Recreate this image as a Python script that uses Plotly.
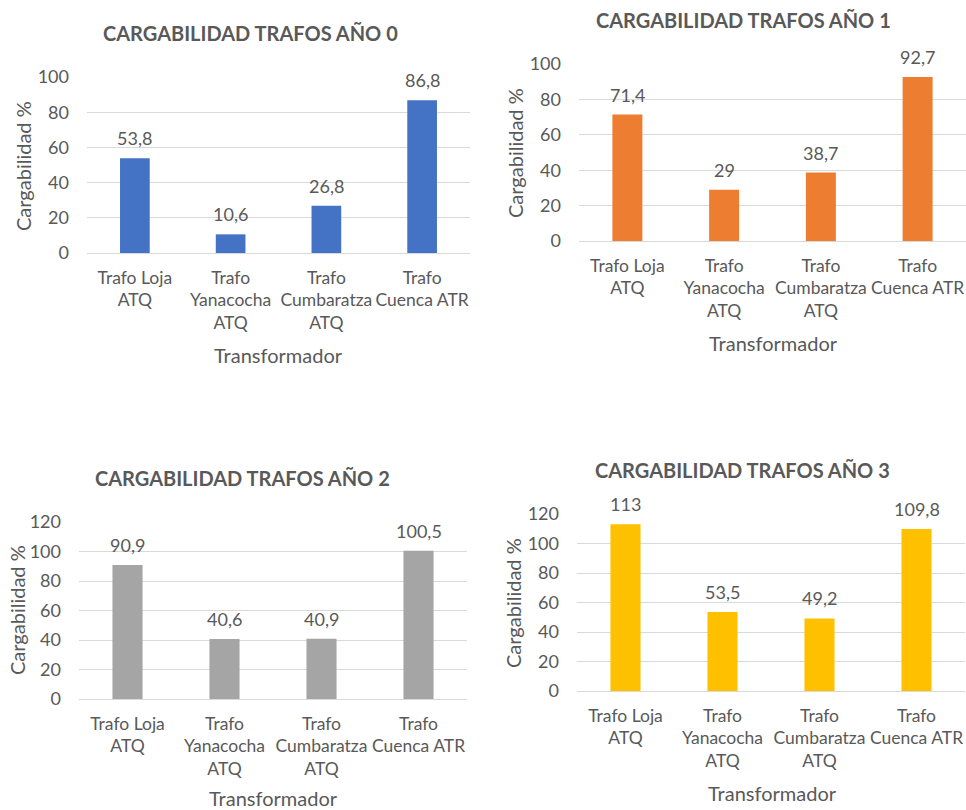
import plotly.graph_objects as go

# Transformer loading (%) per study year
categories = ["Trafo Loja ATQ", "Trafo Yanacocha ATQ", "Trafo Cumbaratza ATQ", "Trafo Cuenca ATR"]
tick_text = ["Trafo Loja<br>ATQ", "Trafo<br>Yanacocha<br>ATQ", "Trafo<br>Cumbaratza<br>ATQ", "Trafo<br>Cuenca ATR"]
anio_0 = [53.8, 10.6, 26.8, 86.8]
anio_1 = [71.4, 29, 38.7, 92.7]
anio_2 = [90.9, 40.6, 40.9, 100.5]
anio_3 = [113, 53.5, 49.2, 109.8]
titles = ["CARGABILIDAD TRAFOS AÑO 0", "CARGABILIDAD TRAFOS AÑO 1",
          "CARGABILIDAD TRAFOS AÑO 2", "CARGABILIDAD TRAFOS AÑO 3"]
y_max = [100, 100, 120, 120]

W, H = 966, 810
FONT = "Lato"
TXT = "#595959"
GRID = "#D9D9D9"
colors = ["#4472C4", "#ED7D31", "#A5A5A5", "#FFC000"]
series = [anio_0, anio_1, anio_2, anio_3]

# panel layout in pixels: plot left/right, y of the zero line, y of the top gridline
panels = [
    dict(l=87, r=470, y0=253, y1=77, title=(250, 33), ytitle=(23, 166), xtitle=(278, 355)),
    dict(l=579, r=966, y0=241, y1=64, title=(743, 20), ytitle=(515, 153), xtitle=(773, 343)),
    dict(l=79, r=467, y0=699, y1=522, title=(243, 478), ytitle=(17, 610), xtitle=(273, 798)),
    dict(l=577, r=965, y0=691, y1=514, title=(742, 470), ytitle=(513, 603), xtitle=(772, 793)),
]


def px_x(x):
    return x / W


def px_y(y):
    return 1 - y / H


def fmt(v):
    return f"{v:g}".replace(".", ",")


fig = go.Figure()
annotations = []

for i, (vals, col, p) in enumerate(zip(series, colors, panels)):
    sfx = "" if i == 0 else str(i + 1)
    xa, ya = "x" + sfx, "y" + sfx
    fig.add_trace(go.Bar(x=categories, y=vals, marker_color=col, marker_line_width=0,
                         xaxis=xa, yaxis=ya, showlegend=False, hoverinfo="x+y"))
    fig.layout["xaxis" + sfx] = dict(
        domain=[px_x(p["l"]), min(1, px_x(p["r"]))], anchor=ya, automargin=False,
        tickmode="array", tickvals=categories, ticktext=tick_text, tickangle=0,
        tickfont=dict(family=FONT, size=17.5, color=TXT), ticks="",
        ticklabelstandoff=12, showgrid=False, showline=False, zeroline=False,
        range=[-0.5, 3.5], fixedrange=True,
    )
    fig.layout["yaxis" + sfx] = dict(
        domain=[px_y(p["y0"]), px_y(p["y1"])], anchor=xa, automargin=False,
        range=[0, y_max[i]], dtick=20, showgrid=True, gridcolor=GRID, gridwidth=1,
        zeroline=True, zerolinecolor=GRID, zerolinewidth=1, showline=False,
        tickfont=dict(family=FONT, size=18, color=TXT), ticks="",
        ticklabelstandoff=17, fixedrange=True,
    )
    # value labels above each bar
    for c, v in zip(categories, vals):
        annotations.append(dict(x=c, y=v, xref=xa, yref=ya, text=fmt(v), showarrow=False,
                                yanchor="middle", yshift=20,
                                font=dict(family=FONT, size=18, color=TXT)))
    # chart title and axis titles
    tx, ty = p["title"]
    annotations.append(dict(x=px_x(tx), y=px_y(ty), xref="paper", yref="paper",
                            text="<b>" + titles[i] + "</b>", showarrow=False,
                            xanchor="center", yanchor="middle",
                            font=dict(family=FONT, size=20, color=TXT)))
    yx, yy = p["ytitle"]
    annotations.append(dict(x=px_x(yx), y=px_y(yy), xref="paper", yref="paper",
                            text="Cargabilidad %", showarrow=False, textangle=-90,
                            xanchor="center", yanchor="middle",
                            font=dict(family=FONT, size=20, color=TXT)))
    xx, xy = p["xtitle"]
    annotations.append(dict(x=px_x(xx), y=px_y(xy), xref="paper", yref="paper",
                            text="Transformador", showarrow=False,
                            xanchor="center", yanchor="middle",
                            font=dict(family=FONT, size=20, color=TXT)))

fig.update_layout(
    width=W, height=H, autosize=False,
    margin=dict(l=0, r=0, t=0, b=0, pad=0),
    paper_bgcolor="white", plot_bgcolor="white",
    bargap=0.69, separators=",.",
    annotations=annotations,
    font=dict(family=FONT, color=TXT),
)

fig.write_html("out.html", config={"displayModeBar": False})
